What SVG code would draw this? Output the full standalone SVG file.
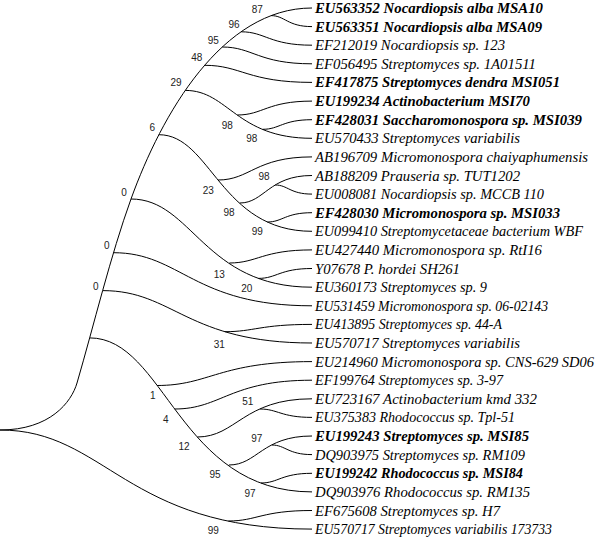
<svg xmlns="http://www.w3.org/2000/svg" width="602" height="538" viewBox="0 0 602 538">
<style>
.br{fill:none;stroke:#000;stroke-width:1}
.lf{font-family:"Liberation Serif",serif;font-style:italic;font-size:15px;fill:#000}
.b{font-weight:bold}
.bs{font-family:"Liberation Sans",sans-serif;font-size:10px;fill:#222;text-anchor:middle}
</style>
<rect width="602" height="538" fill="#fff"/>
<g id="connectors">
<path class="br" d="M0,430 C50,430 71.4,402.2 77,383 C93.8,325.4 110.6,255.4 131,199 C161.6,114.4 222,8 312,8"/>
<path class="br" d="M0,430 C106.1,430 124.8,529.1 312,529.1"/>
<path class="br" d="M228.4,521 C256.8,521 261.8,510.5 312,510.5"/>
<path class="br" d="M89.7,337.9 C165.3,337.9 178.6,491.9 312,491.9"/>
<path class="br" d="M157,385.5 C209.7,385.5 219,361.6 312,361.6"/>
<path class="br" d="M174.7,409 C221.4,409 229.6,380.2 312,380.2"/>
<path class="br" d="M197.3,437 C236.3,437 243.2,398.8 312,398.8"/>
<path class="br" d="M260.1,409 C277.7,409 280.9,417.4 312,417.4"/>
<path class="br" d="M228.9,465 C257.2,465 262.1,436 312,436"/>
<path class="br" d="M271.8,445 C285.5,445 287.9,454.6 312,454.6"/>
<path class="br" d="M261,483 C278.3,483 281.4,473.3 312,473.3"/>
<path class="br" d="M102.7,290.6 C173.9,290.6 186.4,343 312,343"/>
<path class="br" d="M224.9,331.7 C254.5,331.7 259.7,324.4 312,324.4"/>
<path class="br" d="M113.5,252.7 C181,252.7 192.9,305.8 312,305.8"/>
<path class="br" d="M131,199 C192.5,199 203.4,287.2 312,287.2"/>
<path class="br" d="M229.3,263 C257.4,263 262.4,249.9 312,249.9"/>
<path class="br" d="M258.5,278.4 C276.7,278.4 279.9,268.5 312,268.5"/>
<path class="br" d="M158.9,134.7 C211,134.7 220.1,231.3 312,231.3"/>
<path class="br" d="M218.1,180 C250,180 255.7,156.9 312,156.9"/>
<path class="br" d="M239.8,203 C264.3,203 268.7,175.5 312,175.5"/>
<path class="br" d="M275.3,185 C287.8,185 290,194.1 312,194.1"/>
<path class="br" d="M267.4,222 C282.6,222 285.2,212.7 312,212.7"/>
<path class="br" d="M185.3,90.4 C228.4,90.4 236,138.3 312,138.3"/>
<path class="br" d="M237.4,115 C262.8,115 267.2,101.1 312,101.1"/>
<path class="br" d="M262.9,129.3 C279.6,129.3 282.5,119.7 312,119.7"/>
<path class="br" d="M204.8,65.3 C241.2,65.3 247.7,82.4 312,82.4"/>
<path class="br" d="M222.3,47 C252.8,47 258.2,63.8 312,63.8"/>
<path class="br" d="M241.2,31.8 C265.3,31.8 269.5,45.2 312,45.2"/>
<path class="br" d="M271,15.6 C284.9,15.6 287.4,26.6 312,26.6"/>
</g>
<g id="internal-nodes">
<g id="n87"><text class="bs" x="257.3" y="12.8">87</text></g>
<g id="n96"><text class="bs" x="234" y="27.5">96</text></g>
<g id="n95"><text class="bs" x="213.3" y="43.5">95</text></g>
<g id="n48"><text class="bs" x="196.7" y="60.8">48</text></g>
<g id="n29"><text class="bs" x="176" y="86.2">29</text></g>
<g id="n6"><text class="bs" x="152.3" y="130.8">6</text></g>
<g id="n98a"><text class="bs" x="227.3" y="128.5">98</text></g>
<g id="n98b"><text class="bs" x="251.7" y="141.8">98</text></g>
<g id="n98d"><text class="bs" x="264" y="180.2">98</text></g>
<g id="n23"><text class="bs" x="208.3" y="193.5">23</text></g>
<g id="n98c"><text class="bs" x="229" y="216.2">98</text></g>
<g id="n99b"><text class="bs" x="257.3" y="235.2">99</text></g>
<g id="n13"><text class="bs" x="219.3" y="277.8">13</text></g>
<g id="n20"><text class="bs" x="246.7" y="291.8">20</text></g>
<g id="n31"><text class="bs" x="219.3" y="347.5">31</text></g>
<g id="n0a"><text class="bs" x="124" y="195.8">0</text></g>
<g id="n0b"><text class="bs" x="106.7" y="249.2">0</text></g>
<g id="n0c"><text class="bs" x="95.7" y="289.5">0</text></g>
<g id="n1"><text class="bs" x="152.7" y="398.5">1</text></g>
<g id="n4"><text class="bs" x="165.7" y="422.5">4</text></g>
<g id="n12"><text class="bs" x="184" y="450.2">12</text></g>
<g id="n95b"><text class="bs" x="215" y="477.8">95</text></g>
<g id="n51"><text class="bs" x="247.7" y="405.2">51</text></g>
<g id="n97a"><text class="bs" x="256.7" y="441.8">97</text></g>
<g id="n97b"><text class="bs" x="250" y="496.8">97</text></g>
<g id="n99"><text class="bs" x="213.3" y="533.5">99</text></g>
</g>
<g id="leaves">
<g id="leaf0"><text class="lf b" x="315" y="13" textLength="228" lengthAdjust="spacingAndGlyphs">EU563352 Nocardiopsis alba MSA10</text></g>
<g id="leaf1"><text class="lf b" x="315" y="31.6" textLength="227" lengthAdjust="spacingAndGlyphs">EU563351 Nocardiopsis alba MSA09</text></g>
<g id="leaf2"><text class="lf" x="315" y="50.2" textLength="190" lengthAdjust="spacingAndGlyphs">EF212019 Nocardiopsis sp. 123</text></g>
<g id="leaf3"><text class="lf" x="315" y="68.8" textLength="221" lengthAdjust="spacingAndGlyphs">EF056495 Streptomyces sp. 1A01511</text></g>
<g id="leaf4"><text class="lf b" x="315" y="87.4" textLength="245" lengthAdjust="spacingAndGlyphs">EF417875 Streptomyces dendra MSI051</text></g>
<g id="leaf5"><text class="lf b" x="315" y="106.1" textLength="215" lengthAdjust="spacingAndGlyphs">EU199234 Actinobacterium MSI70</text></g>
<g id="leaf6"><text class="lf b" x="315" y="124.7" textLength="267" lengthAdjust="spacingAndGlyphs">EF428031 Saccharomonospora sp. MSI039</text></g>
<g id="leaf7"><text class="lf" x="315" y="143.3" textLength="205" lengthAdjust="spacingAndGlyphs">EU570433 Streptomyces variabilis</text></g>
<g id="leaf8"><text class="lf" x="315" y="161.9" textLength="273" lengthAdjust="spacingAndGlyphs">AB196709 Micromonospora chaiyaphumensis</text></g>
<g id="leaf9"><text class="lf" x="315" y="180.5" textLength="205" lengthAdjust="spacingAndGlyphs">AB188209 Prauseria sp. TUT1202</text></g>
<g id="leaf10"><text class="lf" x="315" y="199.1" textLength="229" lengthAdjust="spacingAndGlyphs">EU008081 Nocardiopsis sp. MCCB 110</text></g>
<g id="leaf11"><text class="lf b" x="315" y="217.7" textLength="245" lengthAdjust="spacingAndGlyphs">EF428030 Micromonospora sp. MSI033</text></g>
<g id="leaf12"><text class="lf" x="315" y="236.3" textLength="268" lengthAdjust="spacingAndGlyphs">EU099410 Streptomycetaceae bacterium WBF</text></g>
<g id="leaf13"><text class="lf" x="315" y="254.9" textLength="227" lengthAdjust="spacingAndGlyphs">EU427440 Micromonospora sp. RtI16</text></g>
<g id="leaf14"><text class="lf" x="315" y="273.5" textLength="145" lengthAdjust="spacingAndGlyphs">Y07678 P. hordei SH261</text></g>
<g id="leaf15"><text class="lf" x="315" y="292.2" textLength="172" lengthAdjust="spacingAndGlyphs">EU360173 Streptomyces sp. 9</text></g>
<g id="leaf16"><text class="lf" x="315" y="310.8" textLength="233" lengthAdjust="spacingAndGlyphs">EU531459 Micromonospora sp. 06-02143</text></g>
<g id="leaf17"><text class="lf" x="315" y="329.4" textLength="187" lengthAdjust="spacingAndGlyphs">EU413895 Streptomyces sp. 44-A</text></g>
<g id="leaf18"><text class="lf" x="315" y="348" textLength="205" lengthAdjust="spacingAndGlyphs">EU570717 Streptomyces variabilis</text></g>
<g id="leaf19"><text class="lf" x="315" y="366.6" style="font-size:14.5px" textLength="279" lengthAdjust="spacingAndGlyphs">EU214960 Micromonospora sp. CNS-629 SD06</text></g>
<g id="leaf20"><text class="lf" x="315" y="385.2" textLength="188" lengthAdjust="spacingAndGlyphs">EF199764 Streptomyces sp. 3-97</text></g>
<g id="leaf21"><text class="lf" x="315" y="403.8" textLength="222" lengthAdjust="spacingAndGlyphs">EU723167 Actinobacterium kmd 332</text></g>
<g id="leaf22"><text class="lf" x="315" y="422.4" textLength="200" lengthAdjust="spacingAndGlyphs">EU375383 Rhodococcus sp. Tpl-51</text></g>
<g id="leaf23"><text class="lf b" x="315" y="441" textLength="214" lengthAdjust="spacingAndGlyphs">EU199243 Streptomyces sp. MSI85</text></g>
<g id="leaf24"><text class="lf" x="315" y="459.6" textLength="210" lengthAdjust="spacingAndGlyphs">DQ903975 Streptomyces sp. RM109</text></g>
<g id="leaf25"><text class="lf b" x="315" y="478.3" textLength="208" lengthAdjust="spacingAndGlyphs">EU199242 Rhodococcus sp. MSI84</text></g>
<g id="leaf26"><text class="lf" x="315" y="496.9" textLength="215" lengthAdjust="spacingAndGlyphs">DQ903976 Rhodococcus sp. RM135</text></g>
<g id="leaf27"><text class="lf" x="315" y="515.5" textLength="185" lengthAdjust="spacingAndGlyphs">EF675608 Streptomyces sp. H7</text></g>
<g id="leaf28"><text class="lf" x="315" y="534.1" textLength="237" lengthAdjust="spacingAndGlyphs">EU570717 Streptomyces variabilis 173733</text></g>
</g>
</svg>
